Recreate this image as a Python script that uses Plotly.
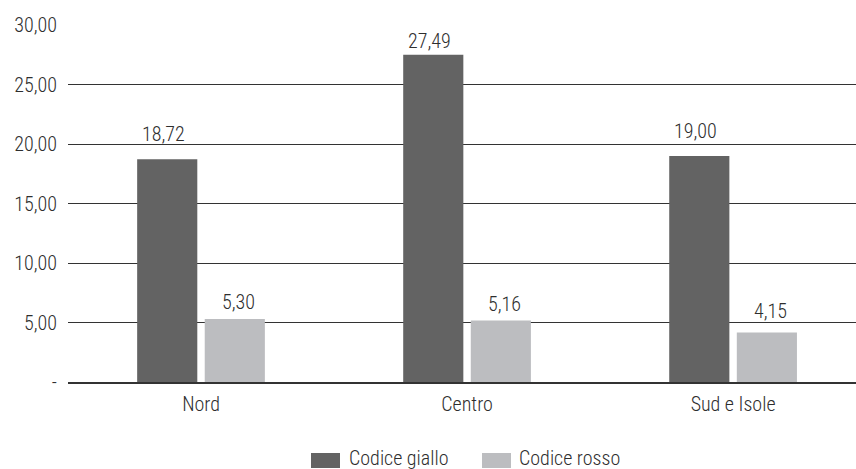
import plotly.graph_objects as go

categories = ["Nord", "Centro", "Sud e Isole"]
giallo = [18.72, 27.49, 19.00]
rosso = [5.30, 5.16, 4.15]
series_names = ["Codice giallo", "Codice rosso"]
series_colors = ["#636363", "#bcbdc0"]
tick_vals = [0, 5, 10, 15, 20, 25, 30]
tick_text = ["-", "5,00", "10,00", "15,00", "20,00", "25,00", "30,00"]

# label placement (pixel offsets above bar tops, style only)
label_shift_giallo = [11, 0, 11]
label_shift_rosso = [3, 3, 8]

FONT = "Roboto Condensed, DejaVu Sans Condensed, Roboto, sans-serif"
FS = 20
FW = 300
TXT = "#2e2e2e"

def fmt(v):
    return f"{v:.2f}".replace(".", ",")

fig = go.Figure()
for name, vals, col in zip(series_names, [giallo, rosso], series_colors):
    fig.add_trace(go.Bar(x=categories, y=vals, name=name,
                         marker=dict(color=col, line=dict(width=0)),
                         showlegend=False))

# value labels
for vals, shifts, xs in [(giallo, label_shift_giallo, -37.5),
                         (rosso, label_shift_rosso, 37.5)]:
    for c, v, ys in zip(categories, vals, shifts):
        fig.add_annotation(x=c, y=v, text=fmt(v), showarrow=False,
                           xshift=xs, yshift=ys, yanchor="bottom",
                           font=dict(family=FONT, size=FS, color=TXT, weight=FW))

# manual legend
for (rx, tx), name, col in zip([(311, 347), (482, 517)], series_names, series_colors):
    fig.add_shape(type="rect", xref="paper", yref="paper",
                  x0=(rx - 68) / 788, x1=(rx + 29 - 68) / 788,
                  y0=(382 - 468) / 357, y1=(382 - 453) / 357,
                  fillcolor=col, line=dict(width=0))
    fig.add_annotation(xref="paper", yref="paper", x=(tx - 68) / 788,
                       y=(382 - 458) / 357, text=name, showarrow=False,
                       xanchor="left", yanchor="middle",
                       font=dict(family=FONT, size=FS, color=TXT, weight=FW))

fig.update_layout(
    width=856, height=469,
    margin=dict(l=68, r=0, t=25, b=87, autoexpand=False),
    paper_bgcolor="white", plot_bgcolor="white",
    font=dict(family=FONT, size=FS, color=TXT, weight=FW),
    barmode="group", bargap=0.492, bargroupgap=0.11,
    showlegend=False,
)
fig.update_xaxes(range=[-0.5, 2.462], showgrid=False, showline=True,
                 linecolor="#333333", linewidth=2, ticks="",
                 ticklabelstandoff=3,
                 tickfont=dict(size=FS, weight=FW), fixedrange=True)
fig.update_yaxes(range=[0, 30], tickvals=tick_vals, ticktext=tick_text,
                 showgrid=True, gridcolor="#333333", gridwidth=1,
                 zeroline=False, showline=False, ticks="", ticklabelstandoff=10,
                 tickfont=dict(size=FS, weight=FW), fixedrange=True)

fig.write_html("out.html")
